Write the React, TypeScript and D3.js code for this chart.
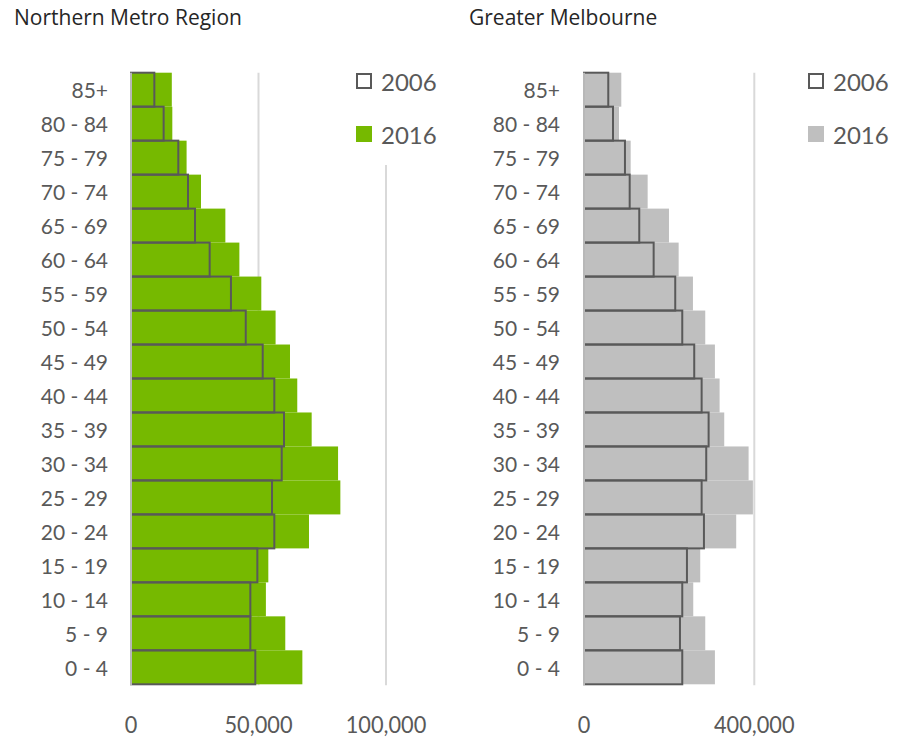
import React from "react";
import * as d3 from "d3";

// Age groups, youngest first
const ageGroups = [
  "0 - 4", "5 - 9", "10 - 14", "15 - 19", "20 - 24", "25 - 29", "30 - 34",
  "35 - 39", "40 - 44", "45 - 49", "50 - 54", "55 - 59", "60 - 64",
  "65 - 69", "70 - 74", "75 - 79", "80 - 84", "85+",
];

// Northern Metro Region population by age
const northern2006 = [
  48750, 46800, 46800, 49550, 56200, 55300, 59100, 60000, 56200, 51650,
  45000, 39200, 30850, 25100, 22350, 18550, 12800, 9150,
];
const northern2016 = [
  67200, 60500, 52900, 53850, 69800, 82100, 81200, 70850, 65200, 62350,
  56700, 51100, 42500, 37000, 27450, 21800, 16200, 16000,
];

// Greater Melbourne population by age
const melbourne2006 = [
  230800, 225400, 230800, 241800, 281700, 276300, 287100, 292700, 276300,
  258900, 230800, 214300, 163600, 129800, 107300, 96200, 68100, 57000,
];
const melbourne2016 = [
  307500, 284800, 256600, 273000, 357500, 396700, 386600, 329400, 318500,
  307500, 284800, 255900, 222300, 199600, 149500, 109600, 82200, 87600,
];

const northernTicks = [0, 50000, 100000];
const melbourneTicks = [0, 400000];
const legendYears = ["2006", "2016"];

const FONT = "Lato, 'Open Sans', sans-serif";
const TITLE_FONT = "'Open Sans', 'Noto Sans', sans-serif";
const TEXT = "#595959";
const GRID = "#d9d9d9";
const OUTLINE = "#595959";

const y = d3
  .scaleBand<string>()
  .domain([...ageGroups].reverse())
  .range([72.7, 684.3])
  .padding(0);

const fmt = d3.format(",");

// Tick labels are drawn in a narrow face: width per character at 23px
const tickCharWidth = 12.6;

type PanelProps = {
  title: string;
  titleX: number;
  labelRight: number;
  x: d3.ScaleLinear<number, number>;
  ticks: number[];
  gridTicks: number[];
  v2006: number[];
  v2016: number[];
  fill: string;
  legendX: number;
  legendBg?: boolean;
};

function Panel(p: PanelProps) {
  const x0 = p.x(0);
  const bottom = y.range()[1];
  const top = y.range()[0];
  return (
    <g>
      <text x={p.titleX} y={25} fontSize={21} fill="#262626" fontFamily={TITLE_FONT}>
        {p.title}
      </text>
      {p.gridTicks.map((t) => (
        <line
          key={"g" + t}
          x1={p.x(t)}
          x2={p.x(t)}
          y1={top}
          y2={bottom + 1}
          stroke={GRID}
          strokeWidth={2}
        />
      ))}
      {ageGroups.map((a, i) => (
        <rect
          key={"b16" + a}
          x={x0}
          y={y(a)!}
          width={p.x(p.v2016[i]) - x0}
          height={y.bandwidth()}
          fill={p.fill}
        />
      ))}
      {ageGroups.map((a, i) => (
        <rect
          key={"b06" + a}
          x={x0}
          y={y(a)!}
          width={p.x(p.v2006[i]) - x0}
          height={y.bandwidth()}
          fill="none"
          stroke={OUTLINE}
          strokeWidth={2}
        />
      ))}
      <line x1={x0} x2={x0} y1={top} y2={bottom + 1} stroke={GRID} strokeWidth={1.5} />
      {ageGroups.map((a) => (
        <text
          key={"l" + a}
          x={p.labelRight}
          y={y(a)! + y.bandwidth() / 2}
          textAnchor="end"
          dominantBaseline="central"
          fontSize={21}
          fill={TEXT}
          fontFamily={FONT}
        >
          {a}
        </text>
      ))}
      {p.ticks.map((t) => {
        const label = fmt(t);
        return (
          <text
            key={"t" + t}
            x={p.x(t)}
            y={733}
            textAnchor="middle"
            fontSize={23}
            fill={TEXT}
            fontFamily={FONT}
            textLength={label.replace(",", "").length * tickCharWidth + (label.includes(",") ? 5 : 0)}
            lengthAdjust="spacingAndGlyphs"
          >
            {label}
          </text>
        );
      })}
      {p.legendBg && (
        <rect x={p.legendX - 10} y={55} width={100} height={110} fill="#fff" />
      )}
      {legendYears.map((yr, i) => {
        const cy = 81 + i * 53;
        return (
          <g key={"lg" + yr}>
            {i === 0 ? (
              <rect
                x={p.legendX + 1}
                y={cy - 7}
                width={14}
                height={14}
                fill="none"
                stroke={OUTLINE}
                strokeWidth={2}
              />
            ) : (
              <rect x={p.legendX} y={cy - 8} width={16} height={16} fill={p.fill} />
            )}
            <text
              x={p.legendX + 25}
              y={cy}
              dominantBaseline="central"
              fontSize={24}
              fill={TEXT}
              fontFamily={FONT}
            >
              {yr}
            </text>
          </g>
        );
      })}
    </g>
  );
}

export default function App() {
  const xNorth = d3.scaleLinear().domain([0, 100000]).range([131, 386]);
  const xMelb = d3.scaleLinear().domain([0, 400000]).range([584, 754.3]);
  return (
    <svg
      width={910}
      height={740}
      style={{ position: "absolute", left: 0, top: 0, background: "#fff" }}
    >
      <rect width={910} height={740} fill="#fff" />
      <Panel
        title="Northern Metro Region"
        titleX={14}
        labelRight={108}
        x={xNorth}
        ticks={northernTicks}
        gridTicks={[50000, 100000]}
        v2006={northern2006}
        v2016={northern2016}
        fill="#76b900"
        legendX={356}
        legendBg
      />
      <Panel
        title="Greater Melbourne"
        titleX={469}
        labelRight={560}
        x={xMelb}
        ticks={melbourneTicks}
        gridTicks={[400000]}
        v2006={melbourne2006}
        v2016={melbourne2016}
        fill="#bfbfbf"
        legendX={808}
      />
    </svg>
  );
}
